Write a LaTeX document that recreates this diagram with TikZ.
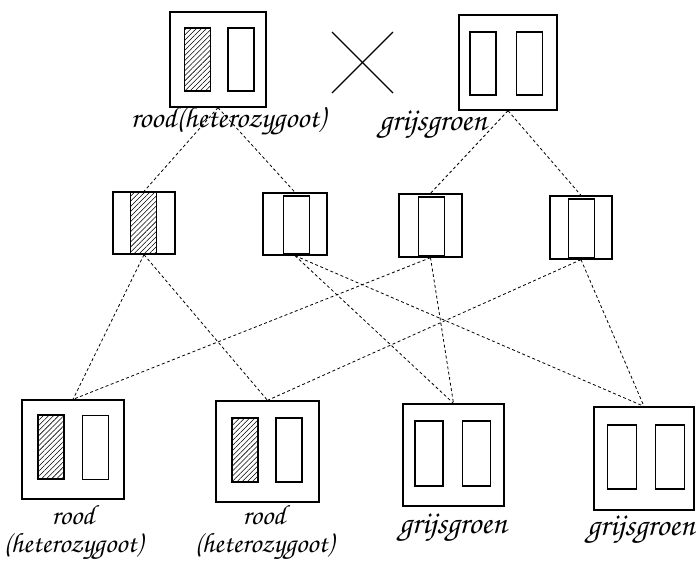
\documentclass[tikz,border=0pt]{standalone}
\usepackage{fontspec}
\usetikzlibrary{patterns.meta}

% handwritten-looking labels
\newfontfamily\handfont{texgyrechorus-mediumitalic.otf}
\newcommand{\hand}{\handfont\fontsize{28}{28}\selectfont}
\newcommand{\handbig}{\handfont\fontsize{32}{28}\selectfont}

\begin{document}
\begin{tikzpicture}[
    x=1pt, y=-1pt,
    cell/.style={rectangle, draw, line width=1.3pt, inner sep=0pt},
    chrom/.style={rectangle, draw, line width=1.1pt, inner sep=0pt, minimum width=26pt, minimum height=#1},
    chrom/.default=63pt,
    red/.style={chrom=#1, pattern={Lines[angle=45, distance=3.6pt, line width=0.55pt]}},
    red/.default=63pt,
    link/.style={line width=0.8pt, dash pattern=on 3pt off 2.5pt},
    lbl/.style={font=\hand, align=center, inner sep=0pt}
]
\useasboundingbox (0,0) rectangle (696,566);

% Parents
\node[cell, minimum width=96pt, minimum height=95pt] (p1) at (218,59.5) {};
\node[red] (p1a) at (197.5,59.5) {};
\node[chrom] (p1b) at (241,59.5) {};

\node[cell, minimum width=98pt, minimum height=95pt] (p2) at (508,62.5) {};
\node[chrom] (p2a) at (483,63.5) {};
\node[chrom] (p2b) at (529.5,63.5) {};

% cross sign
\draw[line width=1.1pt] (332,32) -- (393,93);
\draw[line width=1.1pt] (332,93) -- (393,32);

% Gametes
\node[cell, minimum width=62pt, minimum height=62pt] (g1) at (144,223) {};
\node[red=61pt] (g1a) at (143.5,223) {};
\node[cell, minimum width=64pt, minimum height=62pt] (g2) at (295,224) {};
\node[chrom=58pt] (g2a) at (296.5,225) {};
\node[cell, minimum width=63pt, minimum height=63pt] (g3) at (430.5,225.5) {};
\node[chrom=59pt] (g3a) at (431.5,226.5) {};
\node[cell, minimum width=62pt, minimum height=63pt] (g4) at (581,227.5) {};
\node[chrom=59pt] (g4a) at (581.5,228.5) {};

% Offspring
\node[cell, minimum width=102pt, minimum height=99pt] (k1) at (73,449.5) {};
\node[red=64pt] (k1a) at (51,447) {};
\node[chrom=64pt] (k1b) at (95.5,447.5) {};
\node[cell, minimum width=103pt, minimum height=101pt] (k2) at (267.5,451.5) {};
\node[red=64pt] (k2a) at (245,450) {};
\node[chrom=64pt] (k2b) at (289,450) {};
\node[cell, minimum width=101pt, minimum height=102pt] (k3) at (453.5,455) {};
\node[chrom=65pt, minimum width=28pt] (k3a) at (429,453.5) {};
\node[chrom=65pt, minimum width=28pt] (k3b) at (476.5,453.5) {};
\node[cell, minimum width=100pt, minimum height=103pt] (k4) at (644,458.5) {};
\node[chrom=64pt, minimum width=29pt] (k4a) at (622,457) {};
\node[chrom=64pt, minimum width=29pt] (k4b) at (670,457) {};

% Dashed lines
\draw[link] (p1.south) -- (g1.north);
\draw[link] (p1.south) -- (g2.north);
\draw[link] (p2.south) -- (g3.north);
\draw[link] (p2.south) -- (g4.north);
\draw[link] (g1.south) -- (k1.north);
\draw[link] (g1.south) -- (k2.north);
\draw[link] (g2.south) -- (k3.north);
\draw[link] (g2.south) -- (k4.north);
\draw[link] (g3.south) -- (k1.north);
\draw[link] (g3.south) -- (k3.north);
\draw[link] (g4.south) -- (k2.north);
\draw[link] (g4.south) -- (k4.north);

% Labels
\node[lbl, font=\handfont\fontsize{30}{28}\selectfont] (l1) at (228,121) {rood(heterozygoot)};
\node[lbl, font=\handbig] (l2) at (433,124) {grijsgroen};
\node[lbl] (l3) at (73,532) {rood\\(heterozygoot)};
\node[lbl] (l4) at (264,532) {rood\\(heterozygoot)};
\node[lbl, font=\handbig] (l5) at (453,527) {grijsgroen};
\node[lbl, font=\handbig] (l6) at (641,529) {grijsgroen};

\end{tikzpicture}
\end{document}
